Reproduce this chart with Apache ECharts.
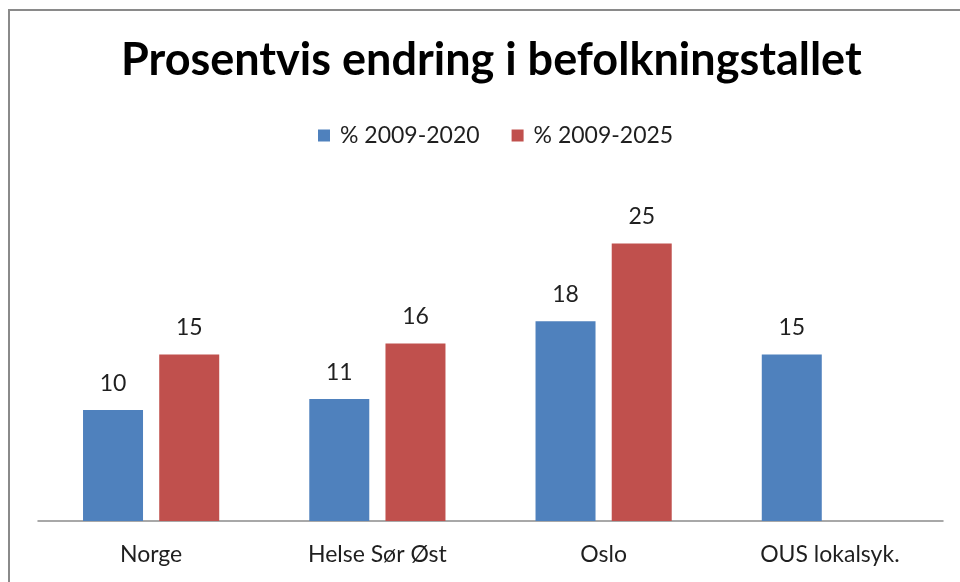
<!DOCTYPE html>
<html>
<head>
<meta charset="utf-8">
<script src="https://cdn.jsdelivr.net/npm/echarts@6/dist/echarts.min.js"></script>
<style>html,body{margin:0;padding:0;background:#fff}#c{width:960px;height:582px}</style>
</head>
<body>
<div id="c"></div>
<script>
const categories = ['Norge', 'Helse Sør Øst', 'Oslo', 'OUS lokalsyk.'];
const change2020 = [10, 11, 18, 15];
const change2025 = [15, 16, 25, null];
const seriesNames = ['% 2009-2020', '% 2009-2025'];

const FONT = 'Lato';
const TEXT = '#1f1f1f';
const LABEL_SIZE = 23;

const chart = echarts.init(document.getElementById('c'));
chart.setOption({
  animation: false,
  backgroundColor: '#fff',
  title: {
    text: 'Prosentvis endring i befolkningstallet',
    left: 116,
    top: 33,
    textStyle: { fontFamily: FONT, fontWeight: 'bold', fontSize: 45, color: '#000' }
  },
  legend: {
    top: 119,
    left: 313,
    itemWidth: 12,
    itemHeight: 12,
    itemGap: 32,
    icon: 'rect',
    textStyle: { fontFamily: FONT, fontSize: LABEL_SIZE, color: TEXT, padding: [0, 0, 0, 5] },
    data: seriesNames
  },
  grid: { left: 38, right: 17, top: 188, bottom: 61 },
  xAxis: {
    type: 'category',
    data: categories,
    axisLine: { lineStyle: { color: '#8c8c8c', width: 1.5 } },
    axisTick: { show: false },
    axisLabel: { fontFamily: FONT, fontSize: LABEL_SIZE, color: TEXT, margin: 22 }
  },
  yAxis: {
    type: 'value',
    min: 0,
    max: 30,
    show: false,
    splitLine: { show: false }
  },
  graphic: [{
    type: 'rect',
    shape: { x: 9, y: 10, width: 1000, height: 1000 },
    style: { fill: 'none', stroke: '#8a8a8a', lineWidth: 2 },
    silent: true
  }],
  series: [
    {
      name: seriesNames[0],
      type: 'bar',
      data: change2020,
      barWidth: 60,
      barGap: '27%',
      itemStyle: { color: '#4F81BD' },
      label: { show: true, position: 'top', distance: 15, fontFamily: FONT, fontSize: LABEL_SIZE, color: TEXT }
    },
    {
      name: seriesNames[1],
      type: 'bar',
      data: change2025,
      barWidth: 60,
      barGap: '27%',
      itemStyle: { color: '#C0504D' },
      label: { show: true, position: 'top', distance: 15, fontFamily: FONT, fontSize: LABEL_SIZE, color: TEXT }
    }
  ]
});
</script>
</body>
</html>
